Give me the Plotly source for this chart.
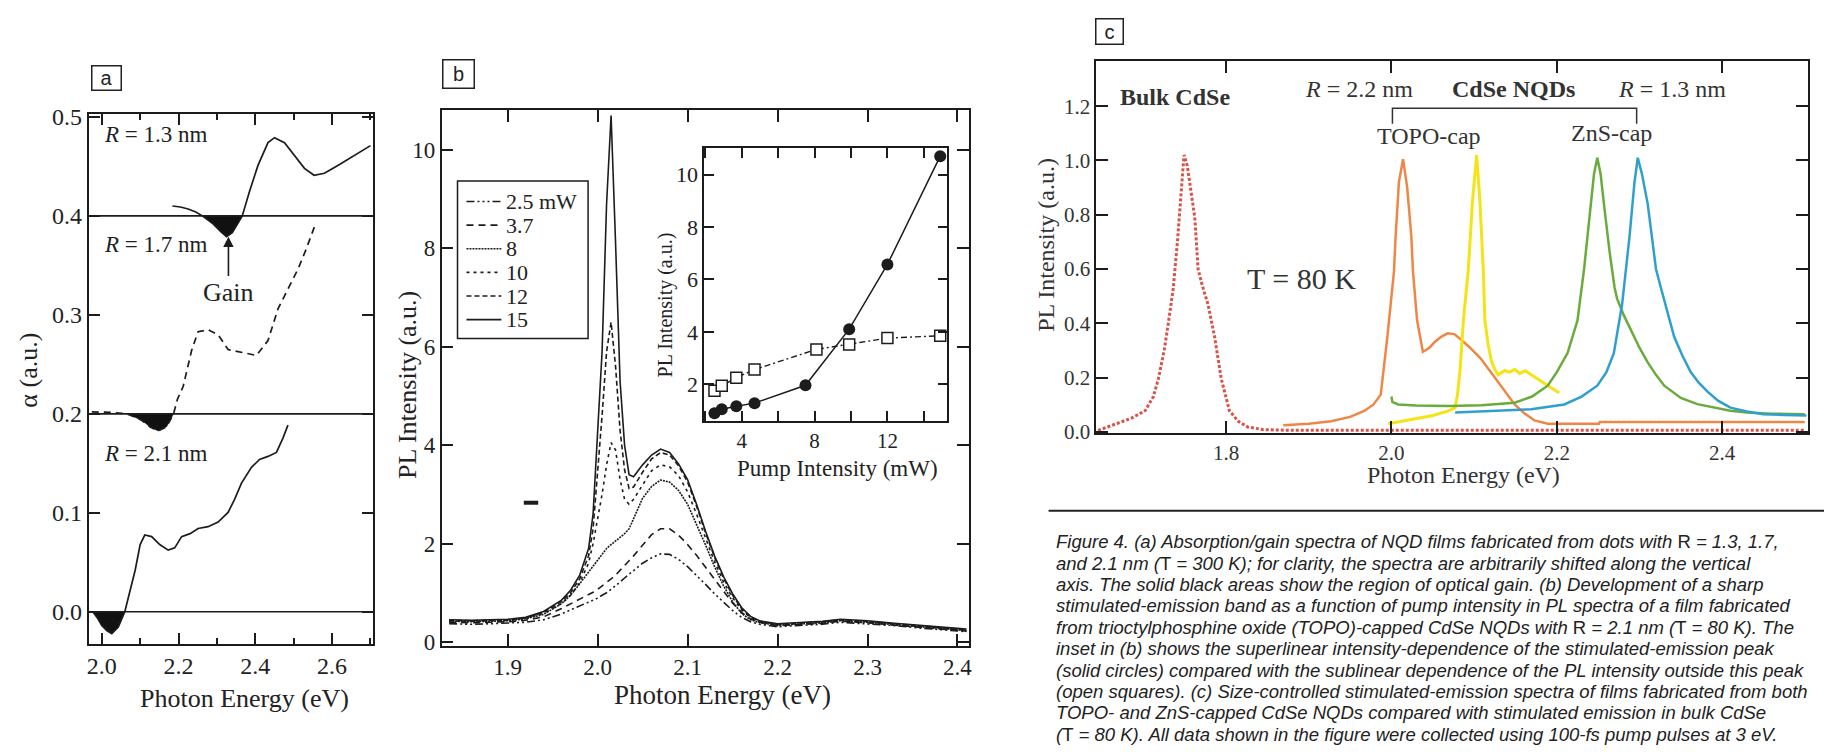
import plotly.graph_objects as go
import numpy as np

W, H = 1835, 756
SERIF = "Liberation Serif, Times New Roman, serif"
SANS = "Liberation Sans, Arial, sans-serif"
INK = "#1c1c1c"


def PX(x):
    return x / W


def PY(y):
    return 1 - y / H


# ---------------- Panel a: absorption / gain spectra ----------------
a_baselines = [0.4, 0.2, 0.0]
a_r13_E = [2.184, 2.205, 2.225, 2.245, 2.262, 2.29, 2.31, 2.325, 2.34, 2.351, 2.366, 2.385,
           2.407, 2.433, 2.45, 2.476, 2.502, 2.528, 2.553, 2.58, 2.615, 2.658, 2.70]
a_r13_alpha = [0.410, 0.409, 0.407, 0.404, 0.400, 0.392, 0.384, 0.379, 0.383, 0.390, 0.400, 0.425,
               0.451, 0.474, 0.479, 0.474, 0.461, 0.448, 0.441, 0.443, 0.451, 0.461, 0.471]
a_r17_E = [1.974, 2.0, 2.026, 2.052, 2.065, 2.085, 2.104, 2.125, 2.147, 2.169, 2.187, 2.197, 2.212,
           2.234, 2.251, 2.277, 2.303, 2.329, 2.364, 2.403, 2.433, 2.459, 2.485, 2.511, 2.532, 2.554]
a_r17_alpha = [0.202, 0.202, 0.2015, 0.2005, 0.2, 0.197, 0.1935, 0.187, 0.1827, 0.187, 0.2, 0.2147,
               0.2276, 0.264, 0.283, 0.285, 0.280, 0.265, 0.262, 0.259, 0.274, 0.306, 0.326, 0.346,
               0.366, 0.389]
a_r21_E = [1.977, 1.99, 2.0, 2.013, 2.026, 2.043, 2.06, 2.074, 2.087, 2.1, 2.112, 2.13, 2.151, 2.173,
           2.19, 2.208, 2.23, 2.251, 2.277, 2.303, 2.329, 2.346, 2.364, 2.39, 2.411, 2.433, 2.455,
           2.472, 2.485]
a_r21_alpha = [0.0, -0.007, -0.0137, -0.019, -0.022, -0.0154, 0.0, 0.022, 0.042, 0.068, 0.0776, 0.076,
               0.068, 0.0623, 0.0646, 0.076, 0.079, 0.0842, 0.086, 0.0907, 0.1004, 0.1136, 0.13,
               0.146, 0.154, 0.157, 0.161, 0.1755, 0.1886]
a_xticks = [2.0, 2.2, 2.4, 2.6]
a_xticklabels = ["2.0", "2.2", "2.4", "2.6"]
a_xminor = [2.1, 2.3, 2.5, 2.7]
a_yticks = [0.0, 0.1, 0.2, 0.3, 0.4, 0.5]
a_yticklabels = ["0.0", "0.1", "0.2", "0.3", "0.4", "0.5"]
a_gain_arrow = (2.33, 0.379, 0.323)

# ---------------- Panel b: PL spectra vs pump ----------------
b_E = [1.835, 1.86, 1.88, 1.90, 1.92, 1.94, 1.96, 1.97, 1.98, 1.99,
       1.995, 2.0, 2.005, 2.01, 2.015, 2.02, 2.025, 2.03, 2.035, 2.04,
       2.05, 2.06, 2.07, 2.08, 2.09, 2.10, 2.11, 2.12, 2.13, 2.14,
       2.15, 2.16, 2.17, 2.18, 2.20, 2.22, 2.25, 2.27, 2.30, 2.33,
       2.36, 2.39, 2.41]
b_pl_25 = [0.37, 0.36, 0.37, 0.38, 0.40, 0.45, 0.57, 0.65, 0.73, 0.81,
           0.85, 0.89, 0.95, 1.00, 1.07, 1.14, 1.22, 1.30, 1.38, 1.46,
           1.60, 1.71, 1.79, 1.78, 1.68, 1.53, 1.36, 1.17, 0.98, 0.80,
           0.64, 0.50, 0.41, 0.36, 0.31, 0.33, 0.36, 0.40, 0.37, 0.33,
           0.28, 0.23, 0.21]
b_pl_37 = [0.40, 0.39, 0.40, 0.41, 0.44, 0.51, 0.68, 0.77, 0.86, 0.96,
           1.01, 1.07, 1.14, 1.20, 1.28, 1.36, 1.45, 1.55, 1.65, 1.75,
           1.97, 2.18, 2.30, 2.30, 2.17, 1.98, 1.76, 1.52, 1.28, 1.04,
           0.79, 0.60, 0.47, 0.40, 0.33, 0.35, 0.38, 0.42, 0.39, 0.34,
           0.29, 0.24, 0.22]
b_pl_8 = [0.42, 0.41, 0.42, 0.43, 0.47, 0.56, 0.78, 0.95, 1.18, 1.42,
          1.55, 1.68, 1.80, 1.90, 1.98, 2.05, 2.12, 2.20, 2.30, 2.50,
          2.92, 3.16, 3.29, 3.25, 3.08, 2.80, 2.40, 1.97, 1.53, 1.14,
          0.82, 0.58, 0.45, 0.39, 0.34, 0.36, 0.39, 0.43, 0.40, 0.35,
          0.30, 0.25, 0.23]
b_pl_10 = [0.43, 0.42, 0.43, 0.44, 0.48, 0.58, 0.78, 0.95, 1.20, 1.60,
           2.00, 2.50, 3.00, 3.60, 4.05, 3.90, 3.30, 2.90, 2.80, 2.90,
           3.20, 3.48, 3.60, 3.56, 3.38, 3.05, 2.60, 2.10, 1.63, 1.22,
           0.90, 0.65, 0.49, 0.41, 0.35, 0.37, 0.40, 0.44, 0.41, 0.36,
           0.31, 0.26, 0.24]
b_pl_12 = [0.44, 0.43, 0.44, 0.45, 0.49, 0.60, 0.82, 1.00, 1.28, 1.75,
           2.30, 3.40, 4.60, 5.90, 6.50, 5.60, 4.30, 3.50, 3.12, 3.15,
           3.45, 3.72, 3.85, 3.80, 3.58, 3.25, 2.76, 2.22, 1.72, 1.30,
           0.95, 0.68, 0.50, 0.42, 0.36, 0.38, 0.41, 0.45, 0.42, 0.37,
           0.32, 0.27, 0.25]
b_pl_15 = [0.45, 0.44, 0.45, 0.46, 0.50, 0.62, 0.85, 1.05, 1.35, 1.90,
           2.60, 4.30, 5.90, 8.90, 10.70, 8.10, 5.30, 4.00, 3.40, 3.36,
           3.60, 3.80, 3.92, 3.85, 3.62, 3.30, 2.80, 2.25, 1.75, 1.33,
           0.98, 0.70, 0.52, 0.43, 0.37, 0.39, 0.42, 0.46, 0.43, 0.38,
           0.33, 0.28, 0.26]
b_series_names = ["2.5 mW", "3.7", "8", "10", "12", "15"]
b_series_dash = ["8px,3px,2px,3px,2px,3px,2px,3px", "7px,5px", "2px,1px", "3px,4px", "5px,3px", "solid"]
b_mark_E = [1.918, 1.934]
b_mark_pl = [2.83, 2.83]
b_xticks = [1.9, 2.0, 2.1, 2.2, 2.3, 2.4]
b_xticklabels = ["1.9", "2.0", "2.1", "2.2", "2.3", "2.4"]
b_yticks = [0, 2, 4, 6, 8, 10]

# inset
ins_pump_circ = [2.5, 2.9, 3.7, 4.7, 7.5, 9.9, 12.0, 14.9]
ins_pl_circ = [0.89, 1.05, 1.16, 1.28, 1.96, 4.1, 6.57, 10.7]
ins_pump_sq = [2.5, 2.9, 3.7, 4.7, 8.1, 9.9, 12.0, 14.9]
ins_pl_sq = [1.75, 1.94, 2.25, 2.56, 3.33, 3.52, 3.76, 3.85]
ins_xticks = [2, 4, 6, 8, 10, 12, 14]
ins_xticklabels = ["", "4", "", "8", "", "12", ""]
ins_yticks = [2, 4, 6, 8, 10]

# ---------------- Panel c: stimulated emission spectra ----------------
c_bulk_E = [1.645, 1.666, 1.685, 1.702, 1.712, 1.718, 1.725, 1.730, 1.736, 1.741,
            1.745, 1.749, 1.753, 1.757, 1.762, 1.766, 1.771, 1.778, 1.786, 1.794,
            1.804, 1.815, 1.826, 1.845, 1.870, 1.950, 2.050, 2.150, 2.250, 2.350,
            2.450, 2.500]
c_bulk_I = [0.005, 0.030, 0.050, 0.078, 0.130, 0.196, 0.300, 0.400, 0.530, 0.700,
            0.860, 1.020, 0.980, 0.900, 0.790, 0.600, 0.540, 0.470, 0.350, 0.196,
            0.077, 0.038, 0.018, 0.008, 0.006, 0.006, 0.006, 0.006, 0.006, 0.006,
            0.006, 0.006]
c_topo22_E = [1.869, 1.90, 1.927, 1.95, 1.967, 1.978, 1.987, 1.995, 2.003, 2.005,
              2.009, 2.014, 2.019, 2.024, 2.026, 2.031, 2.038, 2.046, 2.052, 2.060,
              2.068, 2.076, 2.084, 2.095, 2.108, 2.120, 2.129, 2.140, 2.149, 2.160,
              2.173, 2.189, 2.220, 2.251, 2.252, 2.300, 2.400, 2.500]
c_topo22_I = [0.024, 0.030, 0.039, 0.055, 0.077, 0.100, 0.137, 0.350, 0.590, 0.720,
              0.920, 1.005, 0.900, 0.720, 0.590, 0.410, 0.295, 0.310, 0.330, 0.350,
              0.363, 0.360, 0.340, 0.310, 0.270, 0.220, 0.185, 0.140, 0.101, 0.070,
              0.042, 0.030, 0.030, 0.030, 0.036, 0.036, 0.036, 0.036]
c_topo_y_E = [1.996, 2.010, 2.029, 2.050, 2.069, 2.077, 2.080, 2.083, 2.087, 2.093,
              2.098, 2.103, 2.107, 2.111, 2.113, 2.117, 2.121, 2.125, 2.129, 2.137,
              2.143, 2.149, 2.155, 2.162, 2.169, 2.179, 2.189, 2.196, 2.203]
c_topo_y_I = [0.030, 0.038, 0.048, 0.060, 0.077, 0.089, 0.140, 0.230, 0.410, 0.600,
              0.850, 1.020, 0.850, 0.600, 0.410, 0.320, 0.260, 0.230, 0.210, 0.226,
              0.220, 0.230, 0.215, 0.225, 0.210, 0.190, 0.170, 0.155, 0.143]
c_zns_g_E = [2.000, 2.001, 2.008, 2.030, 2.069, 2.109, 2.149, 2.170, 2.189, 2.200,
             2.213, 2.225, 2.233, 2.241, 2.245, 2.249, 2.253, 2.257, 2.264, 2.270,
             2.273, 2.281, 2.290, 2.300, 2.310, 2.320, 2.330, 2.350, 2.370, 2.390,
             2.410, 2.430, 2.460, 2.500]
c_zns_g_I = [0.130, 0.110, 0.101, 0.097, 0.095, 0.098, 0.107, 0.130, 0.170, 0.220,
             0.290, 0.410, 0.600, 0.840, 0.950, 1.010, 0.950, 0.840, 0.660, 0.530,
             0.490, 0.430, 0.375, 0.310, 0.256, 0.210, 0.170, 0.125, 0.102, 0.089,
             0.078, 0.071, 0.067, 0.065]
c_zns13_E = [2.077, 2.109, 2.169, 2.209, 2.230, 2.249, 2.260, 2.269, 2.279, 2.288,
             2.294, 2.298, 2.303, 2.310, 2.320, 2.326, 2.334, 2.342, 2.352, 2.362,
             2.372, 2.382, 2.395, 2.410, 2.430, 2.450, 2.475, 2.502]
c_zns13_I = [0.071, 0.075, 0.083, 0.101, 0.130, 0.170, 0.220, 0.290, 0.470, 0.720,
             0.920, 1.010, 0.950, 0.840, 0.600, 0.530, 0.440, 0.350, 0.280, 0.220,
             0.180, 0.149, 0.115, 0.089, 0.075, 0.065, 0.062, 0.060]
c_xticks = [1.8, 2.0, 2.2, 2.4]
c_xticklabels = ["1.8", "2.0", "2.2", "2.4"]
c_yticks = [0.0, 0.2, 0.4, 0.6, 0.8, 1.0, 1.2]
c_yticklabels = ["0.0", "0.2", "0.4", "0.6", "0.8", "1.0", "1.2"]

caption_lines = [
    "<i>Figure 4. (a) Absorption/gain spectra of NQD films fabricated from dots with </i>R<i> = 1.3, 1.7,</i>",
    "<i>and 2.1 nm (</i>T<i> = 300 K); for clarity, the spectra are arbitrarily shifted along the vertical</i>",
    "<i>axis. The solid black areas show the region of optical gain. (b) Development of a sharp</i>",
    "<i>stimulated-emission band as a function of pump intensity in PL spectra of a film fabricated</i>",
    "<i>from trioctylphosphine oxide (TOPO)-capped CdSe NQDs with </i>R<i> = 2.1 nm (</i>T<i> = 80 K). The</i>",
    "<i>inset in (b) shows the superlinear intensity-dependence of the stimulated-emission peak</i>",
    "<i>(solid circles) compared with the sublinear dependence of the PL intensity outside this peak</i>",
    "<i>(open squares). (c) Size-controlled stimulated-emission spectra of films fabricated from both</i>",
    "<i>TOPO- and ZnS-capped CdSe NQDs compared with stimulated emission in bulk CdSe</i>",
    "<i>(</i>T<i> = 80 K). All data shown in the figure were collected using 100-fs pump pulses at 3 eV.</i>",
]

fig = go.Figure()


def line_tr(x, y, xa, ya, color=INK, width=1.6, dash="solid", name=None, mode="lines"):
    return go.Scatter(x=x, y=y, xaxis=xa, yaxis=ya, mode=mode, name=name, showlegend=False,
                      line=dict(color=color, width=width, dash=dash), hoverinfo="skip")


# ---- panel a ----
for E, A, base in [(a_r13_E, a_r13_alpha, a_baselines[0]),
                   (a_r17_E, a_r17_alpha, a_baselines[1]),
                   (a_r21_E, a_r21_alpha, a_baselines[2])]:
    e = np.array(E)
    a = np.array(A)
    m = a <= base + 1e-9
    fig.add_trace(go.Scatter(x=e[m], y=a[m], xaxis="x", yaxis="y", mode="lines", fill="toself",
                             fillcolor="#111111", line=dict(width=0.5, color="#111111"),
                             showlegend=False, hoverinfo="skip"))
fig.add_trace(line_tr(a_r13_E, a_r13_alpha, "x", "y", width=1.7))
fig.add_trace(line_tr(a_r17_E, a_r17_alpha, "x", "y", width=1.7, dash="7px,5px"))
fig.add_trace(line_tr(a_r21_E, a_r21_alpha, "x", "y", width=1.7))

# ---- panel b ----
b_series = [b_pl_25, b_pl_37, b_pl_8, b_pl_10, b_pl_12, b_pl_15]
for yv, nm, ds in zip(b_series, b_series_names, b_series_dash):
    fig.add_trace(line_tr(b_E, yv, "x2", "y2", width=1.6, dash=ds, name=nm))
fig.add_trace(line_tr(b_mark_E, b_mark_pl, "x2", "y2", width=4))

# inset
fig.add_trace(go.Scatter(x=ins_pump_sq, y=ins_pl_sq, xaxis="x3", yaxis="y3", mode="lines+markers",
                         line=dict(color=INK, width=1.4, dash="6px,3px,2px,3px"),
                         marker=dict(symbol="square", size=11, color="white",
                                     line=dict(color=INK, width=1.5)),
                         showlegend=False, hoverinfo="skip"))
fig.add_trace(go.Scatter(x=ins_pump_circ, y=ins_pl_circ, xaxis="x3", yaxis="y3", mode="lines+markers",
                         line=dict(color=INK, width=1.5),
                         marker=dict(symbol="circle", size=12, color=INK),
                         showlegend=False, hoverinfo="skip"))

# ---- panel c ----
fig.add_trace(line_tr(c_bulk_E, c_bulk_I, "x4", "y4", color="#d9534a", width=3, dash="3px,2px"))
fig.add_trace(line_tr(c_topo22_E, c_topo22_I, "x4", "y4", color="#ee8745", width=2.5))
fig.add_trace(line_tr(c_topo_y_E, c_topo_y_I, "x4", "y4", color="#f4e416", width=3))
fig.add_trace(line_tr(c_zns_g_E, c_zns_g_I, "x4", "y4", color="#6aab3c", width=2.5))
fig.add_trace(line_tr(c_zns13_E, c_zns13_I, "x4", "y4", color="#2f9fcf", width=2.5))


def axstyle(**kw):
    d = dict(showline=True, linecolor=INK, linewidth=1.6, mirror="ticks", ticks="inside",
             ticklen=11, tickwidth=1.6, tickcolor=INK, showgrid=False, zeroline=False,
             tickfont=dict(family=SERIF, size=23, color="#222"), fixedrange=True)
    d.update(kw)
    return d


layout = dict(
    width=W, height=H, margin=dict(l=0, r=0, t=0, b=0),
    paper_bgcolor="white", plot_bgcolor="rgba(0,0,0,0)", showlegend=False,
    xaxis=axstyle(domain=[PX(87), PX(372)], range=[1.966, 2.706], anchor="y",
                  tickmode="array", tickvals=a_xticks, ticktext=a_xticklabels,
                  tickfont=dict(family=SERIF, size=24, color="#222"),
                  minor=dict(tickmode="array", tickvals=a_xminor, ticks="inside", ticklen=6,
                             tickwidth=1.5, tickcolor=INK)),
    yaxis=axstyle(domain=[PY(652), PY(107)], range=[-0.0324, 0.5029], anchor="x",
                  tickmode="array", tickvals=a_yticks, ticktext=a_yticklabels,
                  tickfont=dict(family=SERIF, size=24, color="#222")),
    xaxis2=axstyle(domain=[PX(441), PX(970)], range=[1.8266, 2.4126], anchor="y2",
                   tickmode="array", tickvals=b_xticks, ticktext=b_xticklabels, ticklen=12),
    yaxis2=axstyle(domain=[PY(654), PY(103)], range=[-0.079, 10.81], anchor="x2",
                   tickmode="array", tickvals=b_yticks, ticklen=12),
    xaxis3=axstyle(domain=[PX(704.4), PX(948.6)], range=[1.93, 15.3], anchor="y3",
                   tickmode="array", tickvals=ins_xticks, ticktext=ins_xticklabels, ticklen=10,
                   tickfont=dict(family=SERIF, size=21, color="#222")),
    yaxis3=axstyle(domain=[PY(422.7), PY(141.7)], range=[0.6, 11.02], anchor="x3",
                   tickmode="array", tickvals=ins_yticks, ticklen=10,
                   tickfont=dict(family=SERIF, size=22, color="#222")),
    xaxis4=axstyle(domain=[PX(1098), PX(1812)], range=[1.643, 2.504], anchor="y4",
                   tickmode="array", tickvals=c_xticks, ticktext=c_xticklabels, ticklen=12,
                   linewidth=2, tickfont=dict(family=SERIF, size=21, color="#333")),
    yaxis4=axstyle(domain=[PY(435), PY(52)], range=[-0.004, 1.368], anchor="x4",
                   tickmode="array", tickvals=c_yticks, ticktext=c_yticklabels, ticklen=12,
                   linewidth=2, tickfont=dict(family=SERIF, size=21, color="#333")),
)
fig.update_layout(**layout)

shapes = []
for b in a_baselines:
    shapes.append(dict(type="line", xref="x domain", yref="y", x0=0, x1=1, y0=b, y1=b,
                       line=dict(color=INK, width=1.6)))

# legend box for panel b (drawn by hand so its spacing matches)
LG_X0, LG_X1, LG_Y0, LG_Y1 = 457, 588, 176, 338
shapes.append(dict(type="rect", xref="paper", yref="paper", x0=PX(LG_X0), x1=PX(LG_X1),
                   y0=PY(LG_Y1), y1=PY(LG_Y0), line=dict(color=INK, width=1.5),
                   fillcolor="white", layer="above"))
ann = []
for i, (nm, ds) in enumerate(zip(b_series_names, b_series_dash)):
    yy = 197 + 24.3 * i
    shapes.append(dict(type="line", xref="paper", yref="paper", x0=PX(466), x1=PX(501),
                       y0=PY(yy), y1=PY(yy), line=dict(color=INK, width=1.6, dash=ds),
                       layer="above"))
    ann.append(dict(x=PX(504), y=PY(yy), xref="paper", yref="paper", text=nm, showarrow=False,
                    font=dict(family=SERIF, size=22, color="#222"), xanchor="left",
                    yanchor="middle"))

# bracket in panel c
bx0, bx1, by0, by1 = PX(1395), PX(1640), PY(117), PY(101)
shapes.append(dict(type="path", xref="paper", yref="paper",
                   path=f"M {bx0},{by0} L {bx0},{by1} L {bx1},{by1} L {bx1},{by0}",
                   line=dict(color="#333", width=1.5)))
# caption rule
shapes.append(dict(type="line", xref="paper", yref="paper", x0=PX(1050), x1=PX(1828),
                   y0=PY(515), y1=PY(515), line=dict(color="#222", width=2)))
fig.update_layout(shapes=shapes)


def txt(x, y, s, size, family=SERIF, color="#222", angle=0, xanchor="center", **kw):
    d = dict(x=PX(x), y=PY(y), xref="paper", yref="paper", text=s, showarrow=False,
             font=dict(family=family, size=size, color=color), textangle=angle,
             xanchor=xanchor, yanchor="middle")
    d.update(kw)
    ann.append(d)


def boxlabel(cx, cy, s, w, h):
    ann.append(dict(x=PX(cx), y=PY(cy), xref="paper", yref="paper", text=s, showarrow=False,
                    font=dict(family=SANS, size=20, color="#222"), bordercolor="#222",
                    borderwidth=1.5, borderpad=0, width=w - 3, height=h - 3,
                    xanchor="center", yanchor="middle", bgcolor="white"))


boxlabel(105, 70, "a", 31, 26)
boxlabel(458, 66, "b", 33, 30)
boxlabel(1111, 22, "c", 29, 27)

# panel a texts
txt(243, 708, "Photon Energy (eV)", 26)
txt(27, 370, "α (a.u.)", 26, angle=-90)
txt(155, 128, "<i>R</i> = 1.3 nm", 23)
txt(155, 241, "<i>R</i> = 1.7 nm", 23)
txt(155, 456, "<i>R</i> = 2.1 nm", 23)
ann.append(dict(x=a_gain_arrow[0], y=a_gain_arrow[1], xref="x", yref="y",
                ax=a_gain_arrow[0], ay=a_gain_arrow[2], axref="x", ayref="y",
                text="Gain", showarrow=True, arrowhead=2, arrowsize=1.3, arrowwidth=1.6,
                arrowcolor=INK, font=dict(family=SERIF, size=26, color="#222")))

# panel b texts
txt(723, 705, "Photon Energy (eV)", 27)
txt(407, 386, "PL Intensity (a.u.)", 26, angle=-90)
txt(838, 472, "Pump Intensity (mW)", 23)
txt(666, 303, "PL Intensity (a.u.)", 20, angle=-90)

# panel c texts
txt(1466, 478, "Photon Energy (eV)", 24, color="#333")
txt(1048, 242, "PL Intensity (a.u.)", 24, angle=-90, color="#333")
txt(1177, 89, "<b>Bulk CdSe</b>", 24, color="#333")
txt(1361, 81, "<i>R</i> = 2.2 nm", 24, color="#333")
txt(1516, 81, "<b>CdSe NQDs</b>", 24, color="#333")
txt(1675, 81, "<i>R</i> = 1.3 nm", 24, color="#333")
txt(1432, 130, "TOPO-cap", 24, color="#333")
txt(1615, 127, "ZnS-cap", 24, color="#333")
txt(1304, 276, "T = 80 K", 30, color="#333")

# caption
for i, line in enumerate(caption_lines):
    txt(1055, 547 + 22.0 * i, line, 18.5, family=SANS, color="#222", xanchor="left")

fig.update_layout(annotations=ann)
fig.write_html("out.html")
